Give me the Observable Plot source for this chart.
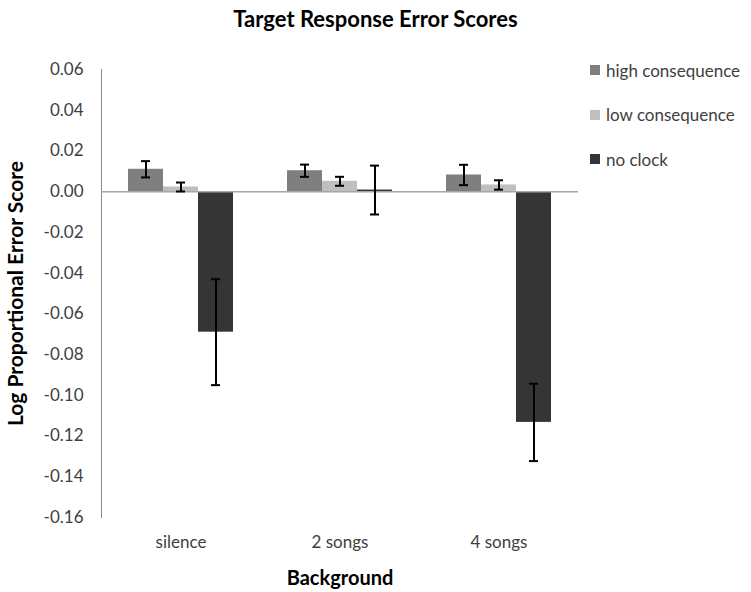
<!DOCTYPE html>
<html><head><meta charset="utf-8">
<script src="https://cdn.jsdelivr.net/npm/d3@7"></script>
<script src="https://cdn.jsdelivr.net/npm/@observablehq/plot@0.6"></script>
<style>
body{margin:0;background:#fff;font-family:Lato,"Open Sans",sans-serif;}
#wrap{position:relative;width:751px;height:592px;}
#title{position:absolute;left:0;width:751px;top:5px;text-align:center;font-weight:bold;font-size:22px;color:#000;}
#legend{position:absolute;left:590px;top:57px;font-size:17px;color:#404040;}
.item{display:flex;align-items:center;height:26px;margin-bottom:18.5px;}
.sw{width:10px;height:10px;margin-right:6px;}
g[aria-label$="tick label"] text, g[aria-label$="tick label"]{fill:#404040;}
</style></head>
<body>
<div id="wrap">
<div id="chart"></div>
<div id="title"></div>
<div id="legend"></div>
</div>
<script>
const title = "Target Response Error Scores";
const categories = ["silence", "2 songs", "4 songs"];
const series = ["high consequence", "low consequence", "no clock"];
const highValues = [0.011, 0.0103, 0.0082];
const lowValues = [0.0023, 0.0051, 0.0033];
const noClockValues = [-0.069, 0.0008, -0.1133];
const highErr = [0.004, 0.003, 0.005];
const lowErr = [0.0022, 0.0022, 0.0023];
const noClockErr = [0.026, 0.012, 0.019];
const colors = ["#7f7f7f", "#bfbfbf", "#353535"];
const yTicks = [0.06, 0.04, 0.02, 0.00, -0.02, -0.04, -0.06, -0.08, -0.10, -0.12, -0.14, -0.16];
const yLabel = "Log Proportional Error Score";
const xLabel = "Background";

const valuesBySeries = [highValues, lowValues, noClockValues];
const errBySeries = [highErr, lowErr, noClockErr];
const rows = [];
categories.forEach((c, i) => series.forEach((s, j) => {
  rows.push({category: c, series: s, value: valuesBySeries[j][i], err: errBySeries[j][i]});
}));

document.getElementById("title").textContent = title;
const leg = document.getElementById("legend");
series.forEach((s, j) => {
  const it = document.createElement("div"); it.className = "item";
  const sw = document.createElement("div"); sw.className = "sw"; sw.style.background = colors[j];
  const tx = document.createElement("span"); tx.textContent = s;
  it.appendChild(sw); it.appendChild(tx); leg.appendChild(it);
});

const chart = Plot.plot({
  width: 751, height: 592,
  marginLeft: 100, marginRight: 173, marginTop: 69, marginBottom: 75,
  style: {fontFamily: "Lato, 'Open Sans', sans-serif", fontSize: "17px", color: "#8a8a8a", background: "white"},
  fx: {domain: categories, padding: 0, label: xLabel, labelAnchor: "center", labelArrow: "none", tickSize: 0, tickPadding: 18, labelOffset: 67},
  x: {domain: series, paddingInner: 0, paddingOuter: 0.71, axis: null},
  y: {domain: [-0.16, 0.06], ticks: yTicks, tickFormat: d => d.toFixed(2), tickSize: 0, tickPadding: 18, line: true,
      label: yLabel, labelAnchor: "center", labelArrow: "none", labelOffset: 93},
  color: {domain: series, range: colors},
  marks: [
    Plot.barY(rows, {fx: "category", x: "series", y: "value", fill: "series"}),
    Plot.ruleY([0], {stroke: "#a6a6a6", strokeWidth: 1.5}),
    Plot.ruleX(rows, {fx: "category", x: "series", y1: d => d.value - d.err, y2: d => d.value + d.err, stroke: "black", strokeWidth: 2}),
    Plot.tickY(rows, {fx: "category", x: "series", y: d => d.value - d.err, stroke: "black", strokeWidth: 2, insetLeft: 13, insetRight: 13}),
    Plot.tickY(rows, {fx: "category", x: "series", y: d => d.value + d.err, stroke: "black", strokeWidth: 2, insetLeft: 13, insetRight: 13})
  ]
});
document.getElementById("chart").appendChild(chart);
chart.querySelectorAll("g[aria-label$='axis label'] text").forEach(t => {
  t.style.fontWeight = "bold"; t.style.fontSize = t.closest("g").getAttribute("aria-label").startsWith("y") ? "21px" : "20px"; t.style.fill = "#000";
});
</script>
</body></html>
